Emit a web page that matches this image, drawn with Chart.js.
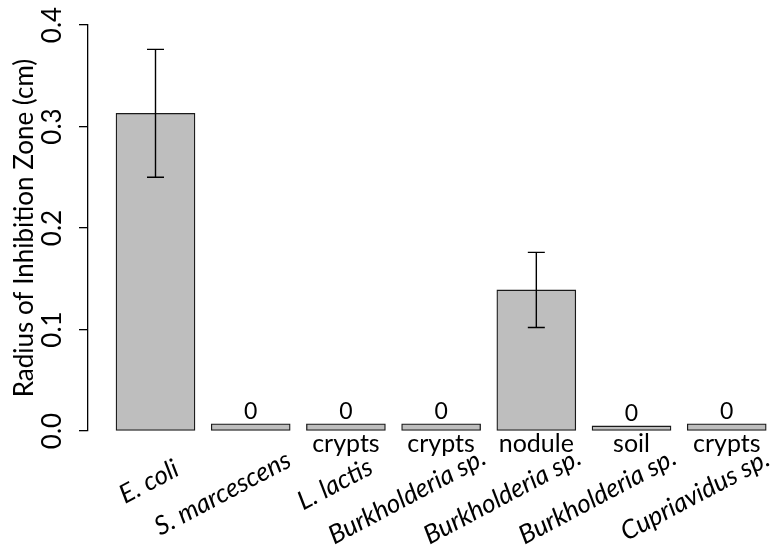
<!DOCTYPE html>
<html>
<head>
<meta charset="utf-8">
<script src="https://cdn.jsdelivr.net/npm/chart.js@4/dist/chart.umd.min.js"></script>
<style>
  html, body { margin: 0; padding: 0; background: #fff; }
  #wrap { width: 777px; height: 556px; }
</style>
</head>
<body>
<div id="wrap"><canvas id="barChart"></canvas></div>
<script>
// values
const species = ['E. coli', 'S. marcescens', 'L. lactis', 'Burkholderia sp.', 'Burkholderia sp.', 'Burkholderia sp.', 'Cupriavidus sp.'];
const sources = ['', '', 'crypts', 'crypts', 'nodule', 'soil', 'crypts'];
const radius = [0.313, 0.007, 0.007, 0.007, 0.139, 0.005, 0.007];
const radiusErr = [0.063, 0, 0, 0, 0.037, 0, 0];
const barNotes = ['', '0', '0', '0', '', '0', '0'];
const yTicks = [0, 0.1, 0.2, 0.3, 0.4];

const FONT = 'Lato';

// error bars, "0" notes and the two-line category labels
const annotate = {
    id: 'annotate',
    afterDatasetsDraw(chart) {
        const ctx = chart.ctx;
        const x = chart.scales.x;
        const y = chart.scales.y;
        const bottom = chart.chartArea.bottom;
        ctx.save();

        ctx.strokeStyle = '#000';
        ctx.lineWidth = 1.4;
        radius.forEach(function(v, i) {
            if (!radiusErr[i]) return;
            const px = x.getPixelForValue(i);
            const top = y.getPixelForValue(v + radiusErr[i]);
            const bot = y.getPixelForValue(v - radiusErr[i]);
            ctx.beginPath();
            ctx.moveTo(px, top); ctx.lineTo(px, bot);
            ctx.moveTo(px - 8.5, top); ctx.lineTo(px + 8.5, top);
            ctx.moveTo(px - 8.5, bot); ctx.lineTo(px + 8.5, bot);
            ctx.stroke();
        });

        ctx.fillStyle = '#000';
        ctx.textBaseline = 'alphabetic';
        ctx.textAlign = 'center';
        ctx.font = '23px ' + FONT;
        barNotes.forEach(function(t, i) {
            if (!t) return;
            ctx.fillText(t, x.getPixelForValue(i), y.getPixelForValue(radius[i]) - 5);
        });

        ctx.font = '25px ' + FONT;
        sources.forEach(function(t, i) {
            if (!t) return;
            ctx.fillText(t, x.getPixelForValue(i), bottom + 21);
        });

        ctx.font = 'italic 26px ' + FONT;
        ctx.textAlign = 'left';
        species.forEach(function(t, i) {
            const w = ctx.measureText(t).width;
            ctx.save();
            ctx.translate(x.getPixelForValue(i) + 13, bottom + 50);
            ctx.rotate(-28 * Math.PI / 180);
            ctx.fillText(t, -0.78 * w, 0);
            ctx.restore();
        });

        ctx.restore();
    }
};

new Chart(document.getElementById('barChart'), {
    type: 'bar',
    data: {
        datasets: [{
            data: radius.map(function(v, i) { return { x: i, y: v }; }),
            backgroundColor: '#bebebe',
            borderColor: '#1a1a1a',
            borderWidth: 1.3,
            borderSkipped: false,
            barThickness: 79
        }]
    },
    options: {
        responsive: true,
        maintainAspectRatio: false,
        animation: false,
        layout: { padding: { left: 0, right: 0, top: 25, bottom: 125 } },
        plugins: {
            legend: { display: false },
            tooltip: { enabled: false }
        },
        scales: {
            x: {
                type: 'linear',
                display: false,
                offset: false,
                min: -0.709,
                max: species.length - 1 + 0.528
            },
            y: {
                min: 0,
                max: 0.4,
                afterFit: function(scale) { scale.width = 88; },
                afterBuildTicks: function(scale) {
                    scale.ticks = yTicks.map(function(v) { return { value: v }; });
                },
                border: { display: true, color: '#000', width: 1.3 },
                grid: {
                    display: true,
                    drawOnChartArea: false,
                    drawTicks: true,
                    tickLength: 9,
                    tickColor: '#000',
                    lineWidth: 1.3
                },
                ticks: {
                    minRotation: 90,
                    maxRotation: 90,
                    crossAlign: 'center',
                    padding: 8,
                    color: '#000',
                    font: { family: FONT, size: 26 },
                    callback: function(v) { return v.toFixed(1); }
                },
                title: {
                    display: true,
                    text: 'Radius of Inhibition Zone (cm)',
                    color: '#000',
                    font: { family: FONT, size: 26 },
                    padding: { top: 9, bottom: 0 }
                }
            }
        }
    },
    plugins: [annotate]
});
</script>
</body>
</html>
